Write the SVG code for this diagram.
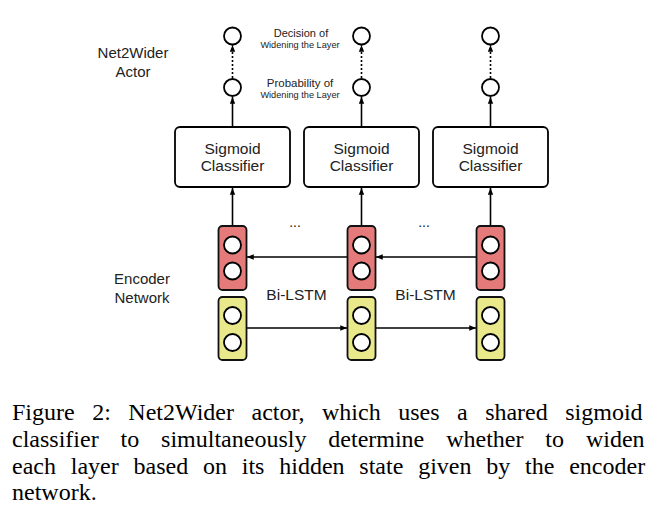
<svg xmlns="http://www.w3.org/2000/svg" width="654" height="530" viewBox="0 0 654 530">
<defs>
<marker id="ah" viewBox="0 0 10 10" refX="10" refY="5" markerWidth="4.2" markerHeight="4.2" markerUnits="strokeWidth" orient="auto">
<path d="M0,1 L10,5 L0,9 Z" fill="#000"/>
</marker>
</defs>
<style>
.box{fill:#fff;stroke:#000;stroke-width:1.8}
.red{fill:#e57a7a;stroke:#111;stroke-width:1.8}
.yel{fill:#e9e98c;stroke:#111;stroke-width:1.8}
.c{fill:#fff;stroke:#000;stroke-width:1.8}
.ln{stroke:#000;stroke-width:1.6;fill:none;marker-end:url(#ah)}
.dot{stroke:#000;stroke-width:1.6;fill:none;stroke-dasharray:2 2;marker-end:url(#ah)}
.t{font-family:"Liberation Sans",Arial,sans-serif;fill:#222;text-anchor:middle}
.cap{font-family:"Liberation Serif","Times New Roman",serif;font-size:24px;fill:#000}
</style>
<rect width="654" height="530" fill="#fff"/>
<g id="labels">
<text class="t" x="133" y="58" font-size="15">Net2Wider</text>
<text class="t" x="133" y="77" font-size="15">Actor</text>
<text class="t" x="301" y="37" font-size="11">Decision of</text>
<text class="t" x="300" y="47.5" font-size="9.2">Widening the Layer</text>
<text class="t" x="300" y="87" font-size="11.5">Probability of</text>
<text class="t" x="300" y="97.5" font-size="9.2">Widening the Layer</text>
<text class="t" x="142" y="284" font-size="15">Encoder</text>
<text class="t" x="142" y="303" font-size="15">Network</text>
<text class="t" x="296.5" y="300" font-size="15.5">Bi-LSTM</text>
<text class="t" x="425.5" y="300" font-size="15.5">Bi-LSTM</text>
<text class="t" x="295" y="227" font-size="14">...</text>
<text class="t" x="424" y="227" font-size="14">...</text>
</g>
<g id="connectors">
<line class="dot" x1="232.5" y1="78" x2="232.5" y2="45"/>
<line class="dot" x1="361.5" y1="78" x2="361.5" y2="45"/>
<line class="dot" x1="490.5" y1="78" x2="490.5" y2="45"/>
<line class="ln" x1="232.5" y1="127" x2="232.5" y2="97"/>
<line class="ln" x1="361.5" y1="127" x2="361.5" y2="97"/>
<line class="ln" x1="490.5" y1="127" x2="490.5" y2="97"/>
<line class="ln" x1="232.5" y1="226" x2="232.5" y2="188"/>
<line class="ln" x1="361.5" y1="226" x2="361.5" y2="188"/>
<line class="ln" x1="490.5" y1="226" x2="490.5" y2="188"/>
<line class="ln" x1="348" y1="257" x2="247" y2="257"/>
<line class="ln" x1="477" y1="257" x2="376" y2="257"/>
<line class="ln" x1="246" y1="328" x2="347" y2="328"/>
<line class="ln" x1="376" y1="328" x2="476" y2="328"/>
</g>
<g id="col1">
<circle class="c" cx="232.5" cy="36" r="8.5"/>
<circle class="c" cx="232.5" cy="87.5" r="8.5"/>
<rect class="box" x="175" y="127" width="115" height="60" rx="5"/>
<text class="t" x="232.5" y="154" font-size="15.5">Sigmoid</text>
<text class="t" x="232.5" y="171" font-size="15.5">Classifier</text>
<rect class="red" x="218.5" y="226" width="28" height="64" rx="4"/>
<circle class="c" cx="232.5" cy="245" r="8.5"/>
<circle class="c" cx="232.5" cy="271" r="8.5"/>
<rect class="yel" x="218.5" y="297" width="28" height="63" rx="4"/>
<circle class="c" cx="232.5" cy="315.5" r="8.5"/>
<circle class="c" cx="232.5" cy="342.5" r="8.5"/>
</g>
<g id="col2">
<circle class="c" cx="361.5" cy="36" r="8.5"/>
<circle class="c" cx="361.5" cy="87.5" r="8.5"/>
<rect class="box" x="304" y="127" width="115" height="60" rx="5"/>
<text class="t" x="361.5" y="154" font-size="15.5">Sigmoid</text>
<text class="t" x="361.5" y="171" font-size="15.5">Classifier</text>
<rect class="red" x="347.5" y="226" width="28" height="64" rx="4"/>
<circle class="c" cx="361.5" cy="245" r="8.5"/>
<circle class="c" cx="361.5" cy="271" r="8.5"/>
<rect class="yel" x="347.5" y="297" width="28" height="63" rx="4"/>
<circle class="c" cx="361.5" cy="315.5" r="8.5"/>
<circle class="c" cx="361.5" cy="342.5" r="8.5"/>
</g>
<g id="col3">
<circle class="c" cx="490.5" cy="36" r="8.5"/>
<circle class="c" cx="490.5" cy="87.5" r="8.5"/>
<rect class="box" x="433" y="127" width="115" height="60" rx="5"/>
<text class="t" x="490.5" y="154" font-size="15.5">Sigmoid</text>
<text class="t" x="490.5" y="171" font-size="15.5">Classifier</text>
<rect class="red" x="476.5" y="226" width="28" height="64" rx="4"/>
<circle class="c" cx="490.5" cy="245" r="8.5"/>
<circle class="c" cx="490.5" cy="271" r="8.5"/>
<rect class="yel" x="476.5" y="297" width="28" height="63" rx="4"/>
<circle class="c" cx="490.5" cy="315.5" r="8.5"/>
<circle class="c" cx="490.5" cy="342.5" r="8.5"/>
</g>
<g id="caption">
<text class="cap" x="12" y="420" word-spacing="11.5">Figure 2: Net2Wider actor, which uses a shared sigmoid</text>
<text class="cap" x="12" y="447" word-spacing="15.9">classifier to simultaneously determine whether to widen</text>
<text class="cap" x="12" y="474" word-spacing="8.8">each layer based on its hidden state given by the encoder</text>
<text class="cap" x="12" y="500">network.</text>
</g>
</svg>
